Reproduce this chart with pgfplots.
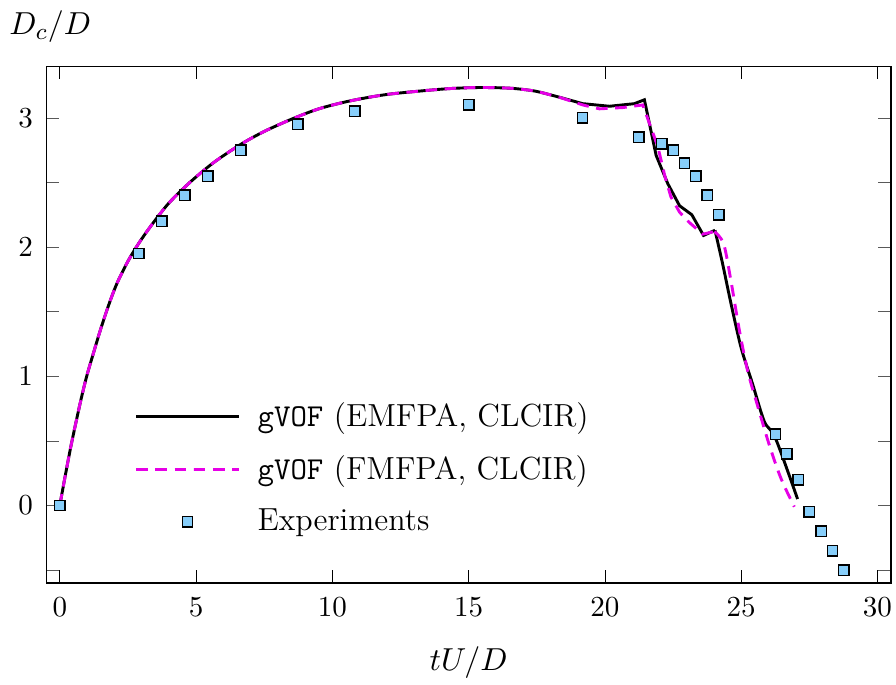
\documentclass[border=0pt]{standalone}
\usepackage{pgfplots}
\pgfplotsset{compat=1.18}

\definecolor{expfill}{RGB}{135,206,250}
\definecolor{fmagenta}{RGB}{230,0,230}

\begin{document}
\begin{tikzpicture}
\begin{axis}[
  scale only axis,
  width=291pt, height=178pt,
  xmin=-0.5, xmax=30.5,
  ymin=-0.6, ymax=3.4,
  xtick={0,5,...,30},
  ytick={-0.5,0,0.5,1,1.5,2,2.5,3},
  yticklabels={,0,,1,,2,,3},
  tick align=inside,
  major tick length=4.4pt,
  xtick style={color=black},
  ytick style={color=black!65},
  xticklabel style={yshift=-1.5pt},
  yticklabel style={xshift=-1pt},
  xlabel={$tU/D$},
  ylabel={$D_c/D$},
  xlabel style={font=\fontsize{11}{13}\selectfont, yshift=-3.5pt},
  every axis y label/.style={at={(rel axis cs:0,1)}, anchor=south,
    xshift=1.4pt, yshift=4.5pt, font=\fontsize{11}{13}\selectfont},
  legend cell align=left,
  legend style={draw=none, fill=none, at={(0.094,0.07)}, anchor=south west,
    font=\fontsize{11}{13}\selectfont, row sep=4.5pt, column sep=4pt},
  legend image code/.code={
    \draw[mark repeat=2, mark phase=2]
      plot coordinates {(0cm,0cm) (0.62cm,0cm) (1.24cm,0cm)};
  },
  emfpa/.style={black, line width=1pt, no marks},
  fmfpa/.style={fmagenta, line width=1pt, dash pattern=on 4pt off 2.6pt, no marks},
]

% gVOF with EMFPA: growth, break-up kinks, final decay
\addplot[emfpa, smooth] coordinates {
  (0,0) (0.2,0.23) (0.4,0.45) (0.6,0.65) (0.8,0.84) (1.0,1.01)
  (1.25,1.19) (1.5,1.365) (1.8,1.555) (2.1,1.72) (2.5,1.89) (2.9,2.03)
  (3.4,2.18) (4.0,2.34) (4.77,2.50) (5.62,2.65) (6.6,2.79) (7.5,2.895)
  (8.56,2.995) (9.5,3.07) (10.51,3.125) (11.5,3.165) (12.35,3.19)
  (14.18,3.225) (15.40,3.235) (16.5,3.23) (17.2,3.215) (17.6,3.20)
  (18.33,3.16)
};
\addlegendentry{\texttt{gVOF} (EMFPA, CLCIR)}
\addplot[emfpa, forget plot] coordinates {
  (18.33,3.16) (19.19,3.11) (20.17,3.09) (21.08,3.11) (21.45,3.14)
  (21.88,2.71) (22.31,2.49) (22.74,2.32) (23.19,2.25) (23.62,2.09)
  (24.04,2.13)
};
\addplot[emfpa, smooth, forget plot] coordinates {
  (24.04,2.13) (24.32,1.87) (24.63,1.56) (25.0,1.22) (25.42,0.94)
  (25.85,0.65) (26.26,0.52) (27.07,0.05)
};

% gVOF with FMFPA
\addplot[fmfpa, smooth] coordinates {
  (0,0) (0.2,0.23) (0.4,0.45) (0.6,0.65) (0.8,0.84) (1.0,1.01)
  (1.25,1.19) (1.5,1.365) (1.8,1.555) (2.1,1.72) (2.5,1.89) (2.9,2.03)
  (3.4,2.18) (4.0,2.34) (4.77,2.50) (5.62,2.65) (6.6,2.79) (7.5,2.895)
  (8.56,2.995) (9.5,3.07) (10.51,3.125) (11.5,3.165) (12.35,3.19)
  (14.18,3.225) (15.40,3.235) (16.5,3.23) (17.2,3.215) (17.6,3.20)
  (18.33,3.16)
};
\addlegendentry{\texttt{gVOF} (FMFPA, CLCIR)}
\addplot[fmfpa, forget plot] coordinates {
  (18.33,3.16) (19.19,3.10) (19.8,3.07) (20.66,3.08) (21.39,3.10)
  (21.63,2.96) (21.94,2.78) (22.2,2.55) (22.42,2.39) (22.74,2.27)
  (23.10,2.19) (23.59,2.10) (24.02,2.12)
};
\addplot[fmfpa, smooth, forget plot] coordinates {
  (24.02,2.12) (24.35,2.03) (24.6,1.77) (24.94,1.35) (25.24,1.04)
  (25.55,0.81) (26.03,0.47) (26.46,0.21) (26.95,-0.01)
};

% measurements
\addplot[only marks, mark=square*, mark size=1.8pt,
  mark options={fill=expfill, draw=black, line width=0.5pt}] coordinates {
  (0,0) (2.90,1.95) (3.74,2.20) (4.58,2.40) (5.43,2.55) (6.64,2.75)
  (8.73,2.95) (10.82,3.05) (15.0,3.10) (19.18,3.00) (21.24,2.85)
  (22.09,2.80) (22.50,2.75) (22.92,2.65) (23.33,2.55) (23.76,2.40)
  (24.18,2.25) (26.26,0.55) (26.68,0.40) (27.09,0.20) (27.50,-0.05)
  (27.93,-0.20) (28.35,-0.35) (28.76,-0.50)
};
\addlegendentry{Experiments}

\end{axis}
\pgfresetboundingbox
\path ([shift={(-15.9pt,-34.8pt)}]current axis.south west)
  rectangle ([shift={(1.7pt,22.8pt)}]current axis.north east);
\end{tikzpicture}
\end{document}
